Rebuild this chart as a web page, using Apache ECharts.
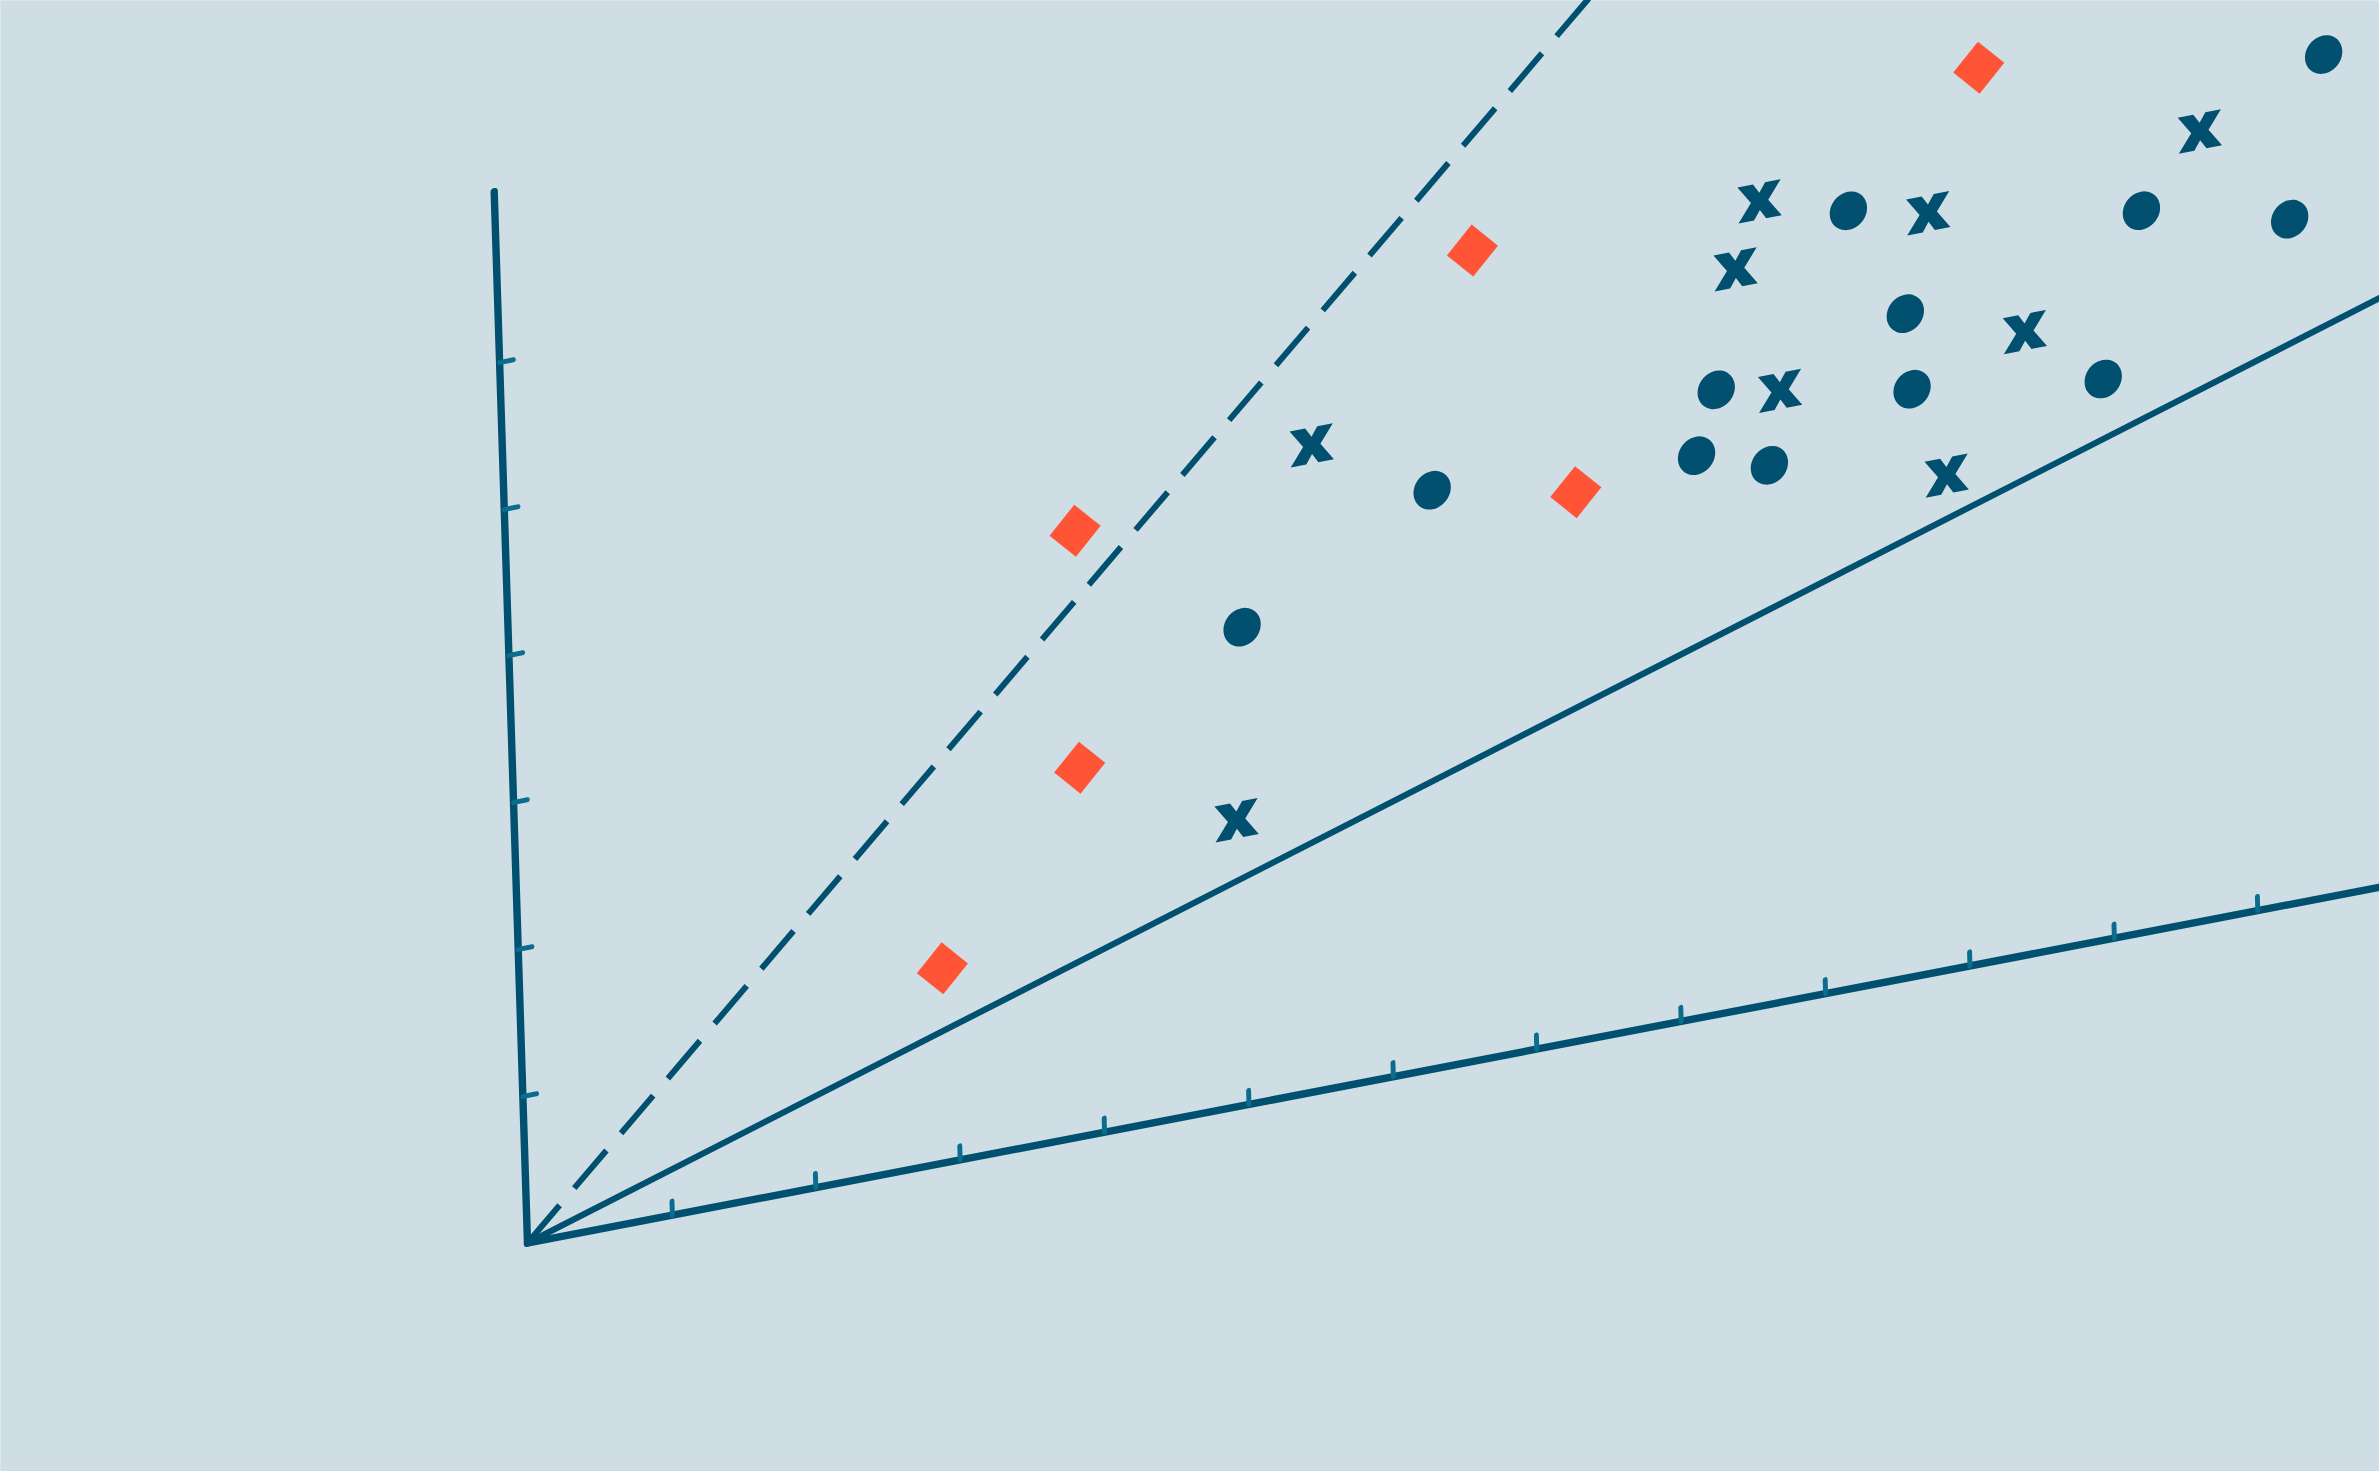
<!DOCTYPE html>
<html>
<head>
<meta charset="utf-8">
<script src="https://cdn.jsdelivr.net/npm/echarts@6/dist/echarts.min.js"></script>
<style>
html, body { margin:0; padding:0; width:2379px; height:1471px; overflow:hidden; background:#cfdde4; }
#frame { position:absolute; left:0; top:0; width:2378px; height:1470px; border-top:1px solid #dde7eb; border-left:1px solid #dde7eb; }
#chart { position:absolute; left:0; top:0; width:2560px; height:1400px; transform-origin:0 0;
  transform: matrix(0.98229, -0.18869, 0.03168, 1.0, 388.09, -38.13); }
</style>
</head>
<body>
<div id="frame"></div>
<div id="chart"></div>
<script>
// data (x, y) in axis units
const circlePoints = [
  [12.64, 5.71], [9.33, 5.27], [11.35, 4.89], [12.37, 4.64], [9.70, 4.50], [8.38, 4.23],
  [9.73, 3.98], [11.05, 3.80], [8.23, 3.81], [8.73, 3.65], [6.40, 3.92], [5.06, 3.24]
];
const crossPoints = [
  [11.77, 5.35], [8.72, 5.45], [9.88, 5.15], [8.54, 5.02], [10.52, 4.22], [8.82, 4.14],
  [9.95, 3.35], [5.58, 4.38], [4.98, 1.94]
];
const diamondPoints = [
  [10.26, 6.07], [6.73, 5.49], [7.39, 3.72], [3.93, 4.11], [3.91, 2.50], [2.92, 1.32]
];
const dashedLine = [[0, 0], [7.71, 7.16]];
const solidLine = [[0, 0], [16, 4.92]];
const xTicks = [1, 2, 3, 4, 5, 6, 7, 8, 9, 10, 11, 12, 13, 14, 15];
const yTicks = [1, 2, 3, 4, 5, 6];
const xRange = [0, 16];
const yRange = [0, 7.16];

const DARK = '#01506f';
const TICK = '#0a6d8e';
const RED = '#ff5436';
const XPATH = 'path://M0,0 L36,0 L50,26 L64,0 L100,0 L70,50 L100,100 L64,100 L50,74 L36,100 L0,100 L30,50 Z';

const chart = echarts.init(document.getElementById('chart'), null, { renderer: 'svg' });
chart.setOption({
  backgroundColor: 'transparent',
  animation: false,
  grid: { left: 100, top: 248.8, width: 2348.8, height: 1051.2, containLabel: false },
  xAxis: {
    type: 'value', min: xRange[0], max: xRange[1], interval: 1,
    axisLine: { show: true, onZero: false, lineStyle: { color: DARK, width: 7.5 } },
    axisTick: { show: true, inside: true, length: 14, customValues: xTicks, lineStyle: { color: TICK, width: 5, cap: 'round' } },
    axisLabel: { show: false },
    splitLine: { show: false }
  },
  yAxis: {
    type: 'value', min: yRange[0], max: yRange[1], interval: 1,
    axisLine: { show: true, onZero: false, lineStyle: { color: DARK, width: 7.5 } },
    axisTick: { show: true, inside: true, length: 14, customValues: yTicks, lineStyle: { color: TICK, width: 5, cap: 'round' } },
    axisLabel: { show: false },
    splitLine: { show: false }
  },
  series: [
    { type: 'line', data: dashedLine, symbol: 'none', clip: false, z: 1,
      lineStyle: { color: DARK, width: 6.5, type: [46, 21] } },
    { type: 'line', data: solidLine, symbol: 'none', clip: false, z: 1,
      lineStyle: { color: DARK, width: 6.5 } },
    { type: 'scatter', data: circlePoints, symbol: 'circle', symbolSize: 38, z: 3,
      itemStyle: { color: DARK, opacity: 1 } },
    { type: 'scatter', data: crossPoints, symbol: XPATH, symbolSize: [44, 36], z: 3,
      itemStyle: { color: DARK, opacity: 1 } },
    { type: 'scatter', data: diamondPoints, symbol: 'diamond', symbolSize: 52, z: 3,
      itemStyle: { color: RED, opacity: 1 } }
  ]
});
</script>
</body>
</html>
